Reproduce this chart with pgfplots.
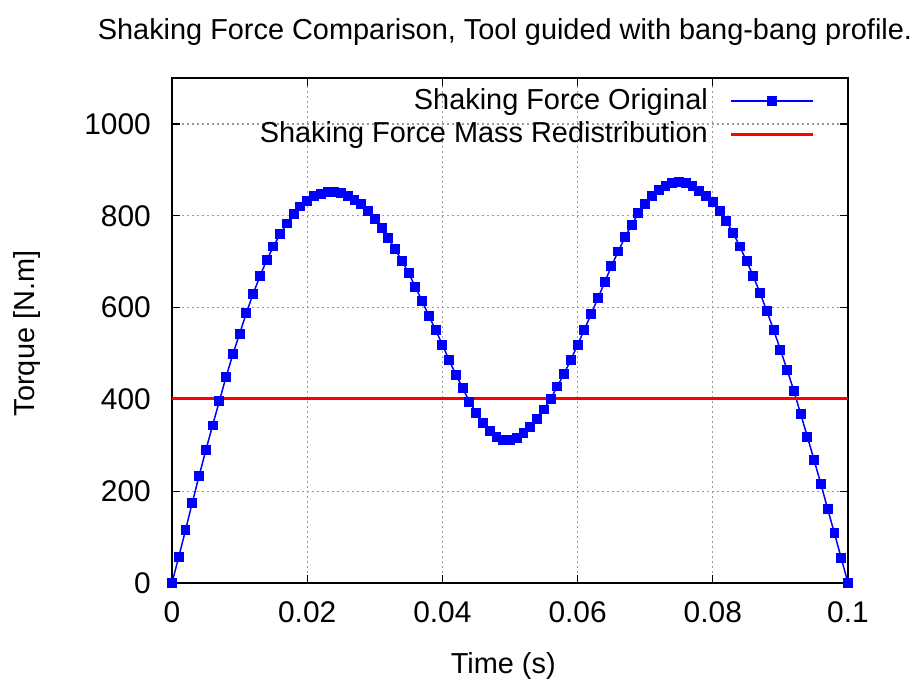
\documentclass[border=0pt]{standalone}
\usepackage{pgfplots}
\pgfplotsset{compat=1.18}
\usepackage{fontspec}
\setmainfont{Liberation Sans}
\pgfplotstableread{
t v
0.000 0
0.001 57
0.002 115
0.003 175
0.004 233
0.005 289
0.006 343
0.007 396
0.008 449
0.009 498
0.010 543
0.011 588
0.012 630
0.013 668
0.014 703
0.015 733
0.016 760
0.017 783
0.018 804
0.019 820
0.020 833
0.021 842
0.022 848
0.023 851
0.024 852
0.025 849
0.026 843
0.027 835
0.028 825
0.029 810
0.030 793
0.031 773
0.032 751
0.033 727
0.034 702
0.035 675
0.036 645
0.037 614
0.038 582
0.039 551
0.040 519
0.041 485
0.042 454
0.043 424
0.044 395
0.045 370
0.046 348
0.047 331
0.048 319
0.049 312
0.050 311
0.051 316
0.052 326
0.053 340
0.054 358
0.055 378
0.056 401
0.057 428
0.058 456
0.059 486
0.060 519
0.061 552
0.062 586
0.063 620
0.064 655
0.065 690
0.066 722
0.067 753
0.068 780
0.069 805
0.070 826
0.071 843
0.072 856
0.073 865
0.074 871
0.075 873
0.076 871
0.077 864
0.078 854
0.079 842
0.080 829
0.081 810
0.082 788
0.083 763
0.084 733
0.085 701
0.086 668
0.087 631
0.088 592
0.089 551
0.090 508
0.091 464
0.092 418
0.093 368
0.094 318
0.095 267
0.096 215
0.097 161
0.098 108
0.099 54
0.100 0
}\original
\begin{document}
\fontsize{29}{34}\selectfont
\begin{tikzpicture}[x=1bp,y=1bp]
\begin{axis}[
  at={(0,0)}, anchor=south west,
  scale only axis, width=676bp, height=505bp,
  xmin=0, xmax=0.1, ymin=0, ymax=1100,
  xtick={0,0.02,0.04,0.06,0.08,0.1},
  xticklabels={0,0.02,0.04,0.06,0.08,0.1},
  ytick={0,200,400,600,800,1000},
  yticklabels={0,200,400,600,800,1000},
  tick align=inside, major tick length=8bp,
  tick style={black, line width=1.2bp},
  axis line style={black, line width=1.5bp},
  grid=major,
  grid style={gray!80, line width=1.3bp, dash pattern=on 2bp off 3bp},
  /pgf/number format/assume math mode=true,
  tick label style={font=\fontsize{30}{34}\selectfont},
  yticklabel style={inner sep=0pt, anchor=east, xshift=-21bp},
  xticklabel style={inner sep=0pt, anchor=north, yshift=-18bp},
  xlabel={Time (s)},
  xlabel style={at={(rel axis cs:0.49,0)}, anchor=center, yshift=-83bp, inner sep=0pt, font=\fontsize{29}{34}\selectfont},
  ylabel={Torque [N.m]},
  ylabel style={at={(rel axis cs:0,0.494)}, anchor=center, yshift=145bp, inner sep=0pt, font=\fontsize{29}{34}\selectfont},
  title={Shaking Force Comparison, Tool guided with bang-bang profile.},
  title style={at={(rel axis cs:0.4926,1)}, anchor=center, yshift=40bp, inner sep=0pt, font=\fontsize{29}{34}\selectfont},
  clip=false,
  legend plot pos=right,
  legend cell align=right,
  legend style={at={(rel axis cs:1,1)}, anchor=north east, xshift=-33bp, yshift=-8bp,
    draw=none, fill=none, inner sep=0pt, row sep=4bp,
    font=\fontsize{29}{34}\selectfont,
    /tikz/every odd column/.append style={column sep=20bp}},
  legend image code/.code={\draw[mark repeat=2,mark phase=2,#1] plot coordinates {(0bp,0bp)(41bp,0bp)(82bp,0bp)};},
]
\addplot[color=blue, line width=1.5bp, mark=square*, mark size=4.2bp, mark options={solid, fill=blue}] table[x=t, y=v] {\original};
\addlegendentry{Shaking Force Original}
\addplot[color=red, line width=3bp] coordinates {(0,402) (0.1,402)};
\addlegendentry{Shaking Force Mass Redistribution}
\end{axis}
\pgfresetboundingbox
\path (-172bp,-99bp) rectangle (743bp,583bp);
\end{tikzpicture}
\end{document}
